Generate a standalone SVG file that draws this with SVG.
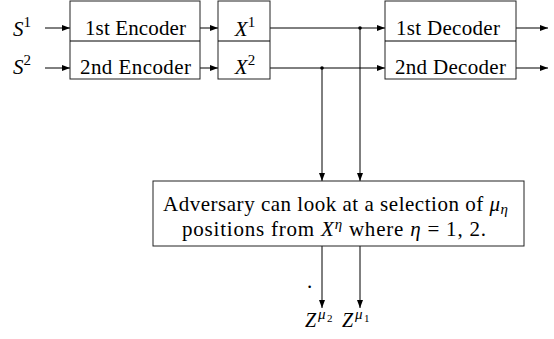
<svg xmlns="http://www.w3.org/2000/svg" width="554" height="339" viewBox="0 0 554 339">
<defs>
<marker id="ah" markerUnits="userSpaceOnUse" markerWidth="9" markerHeight="7" refX="8" refY="3" orient="auto">
<path d="M0,0 L8,3 L0,6 Z" fill="#000"/>
</marker>
<style>
.box{fill:#fff;stroke:#222;stroke-width:1}
.ln{fill:none;stroke:#000;stroke-width:1}
.t{font-size:21px;fill:#000}
.m{font-style:italic}
.sup{font-size:15px}
.z{font-size:20px;fill:#000}
.zs{font-size:15px}
.ss{font-size:11px}
</style>
</defs>
<rect width="554" height="339" fill="#fff"/>
<g id="connectors">
<line class="ln" x1="45" y1="28" x2="70" y2="28" marker-end="url(#ah)"/>
<line class="ln" x1="45" y1="68" x2="70" y2="68" marker-end="url(#ah)"/>
<line class="ln" x1="200" y1="28" x2="218" y2="28" marker-end="url(#ah)"/>
<line class="ln" x1="200" y1="68" x2="218" y2="68" marker-end="url(#ah)"/>
<line class="ln" x1="270" y1="28" x2="385" y2="28" marker-end="url(#ah)"/>
<line class="ln" x1="270" y1="68" x2="385" y2="68" marker-end="url(#ah)"/>
<line class="ln" x1="516" y1="28" x2="548" y2="28" marker-end="url(#ah)"/>
<line class="ln" x1="516" y1="68" x2="548" y2="68" marker-end="url(#ah)"/>
<line class="ln" x1="360" y1="28" x2="360" y2="181" marker-end="url(#ah)"/>
<line class="ln" x1="322" y1="68" x2="322" y2="181" marker-end="url(#ah)"/>
<line class="ln" x1="322" y1="246" x2="322" y2="308" marker-end="url(#ah)"/>
<line class="ln" x1="360" y1="246" x2="360" y2="308" marker-end="url(#ah)"/>
<circle cx="360" cy="28" r="1.8" fill="#000"/>
<circle cx="322" cy="68" r="1.8" fill="#000"/>
</g>
<g font-family="Liberation Serif, Times New Roman, serif">
<g id="sources">
<text class="t" x="13" y="36"><tspan class="m">S</tspan><tspan class="sup" dy="-9">1</tspan></text>
<text class="t" x="13" y="74"><tspan class="m">S</tspan><tspan class="sup" dy="-9">2</tspan></text>
</g>
<g id="encoder">
<rect class="box" x="70" y="1" width="130" height="78"/>
<line class="ln" x1="70" y1="41" x2="200" y2="41"/>
<text class="t" x="135.5" y="35" text-anchor="middle" textLength="101" lengthAdjust="spacing">1st Encoder</text>
<text class="t" x="135.5" y="74" text-anchor="middle" textLength="111" lengthAdjust="spacing">2nd Encoder</text>
</g>
<g id="codewords">
<rect class="box" x="218" y="1" width="52" height="78"/>
<line class="ln" x1="218" y1="41" x2="270" y2="41"/>
<text class="t" x="245" y="36" text-anchor="middle"><tspan class="m">X</tspan><tspan class="sup" dy="-9">1</tspan></text>
<text class="t" x="245" y="74" text-anchor="middle"><tspan class="m">X</tspan><tspan class="sup" dy="-9">2</tspan></text>
</g>
<g id="decoder">
<rect class="box" x="385" y="1" width="131" height="78"/>
<line class="ln" x1="385" y1="41" x2="516" y2="41"/>
<text class="t" x="448" y="35" text-anchor="middle" textLength="104" lengthAdjust="spacing">1st Decoder</text>
<text class="t" x="450.5" y="74" text-anchor="middle" textLength="111" lengthAdjust="spacing">2nd Decoder</text>
</g>
<g id="adversary">
<rect class="box" x="153" y="181" width="371" height="65"/>
<text class="t" x="163" y="211" textLength="345" lengthAdjust="spacing">Adversary can look at a selection of <tspan class="m">μ</tspan><tspan class="sup m" dy="3">η</tspan></text>
<text class="t" x="182" y="236" textLength="304" lengthAdjust="spacing">positions from <tspan class="m">X</tspan><tspan class="sup m" dy="-7">η</tspan><tspan dy="7"> where </tspan><tspan class="m">η</tspan> = 1, 2.</text>
</g>
<g id="outputs">
<text class="t" x="307" y="288">.</text>
<text class="z" x="305" y="327"><tspan class="m">Z</tspan><tspan class="zs m" x="318" dy="-8">μ</tspan><tspan class="ss" x="327" dy="3">2</tspan></text>
<text class="z" x="342" y="327"><tspan class="m">Z</tspan><tspan class="zs m" x="355" dy="-8">μ</tspan><tspan class="ss" x="364" dy="3">1</tspan></text>
</g>
</g>
</svg>
